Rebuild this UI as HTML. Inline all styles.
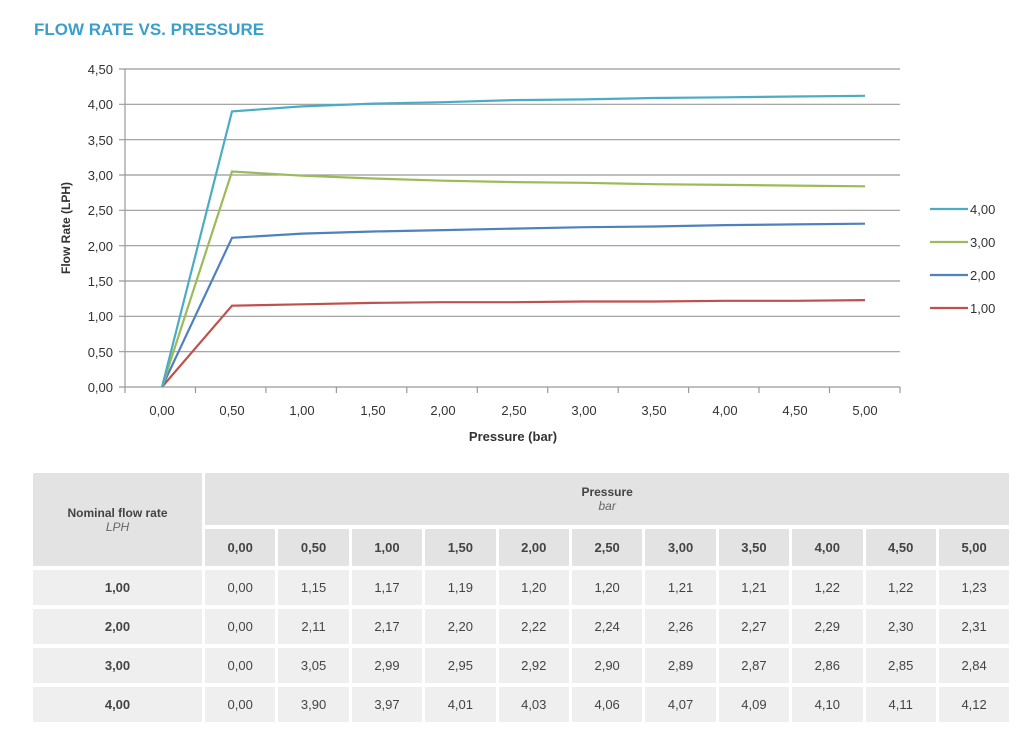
<!DOCTYPE html>
<html><head><meta charset="utf-8"><style>
body{margin:0;background:#fff;width:1024px;height:744px;overflow:hidden;font-family:"Liberation Sans",sans-serif;position:relative}
.t{position:absolute;left:34px;top:20px;color:#3a9fcb;font-weight:bold;font-size:17px}
table{position:absolute;left:33px;top:473px;border-collapse:separate;border-spacing:3px 4px;margin:-4px -3px;font-size:13px;color:#444}
td{background:#efefef;text-align:center;height:35px;padding:0}
.h{background:#e3e3e3;font-weight:bold}
</style></head><body>
<div class="t">FLOW RATE VS. PRESSURE</div>
<svg width="1024" height="470" style="position:absolute;left:0;top:0" font-family="Liberation Sans, sans-serif" font-size="13" fill="#333">
<g stroke="#999" stroke-width="1.2">
<line x1="125" y1="69" x2="900" y2="69"/><line x1="125" y1="104.3" x2="900" y2="104.3"/><line x1="125" y1="139.7" x2="900" y2="139.7"/><line x1="125" y1="175" x2="900" y2="175"/><line x1="125" y1="210.3" x2="900" y2="210.3"/><line x1="125" y1="245.7" x2="900" y2="245.7"/><line x1="125" y1="281" x2="900" y2="281"/><line x1="125" y1="316.3" x2="900" y2="316.3"/><line x1="125" y1="351.7" x2="900" y2="351.7"/><line x1="125" y1="387" x2="900" y2="387"/>
<line x1="125" y1="69" x2="125" y2="387"/>
<path d="M119 69h6M119 104.3h6M119 139.7h6M119 175h6M119 210.3h6M119 245.7h6M119 281h6M119 316.3h6M119 351.7h6M119 387h6"/>
<path d="M125 387v6M195.5 387v6M265.9 387v6M336.4 387v6M406.8 387v6M477.3 387v6M547.7 387v6M618.2 387v6M688.6 387v6M759 387v6M829.5 387v6M900 387v6"/>
</g>
<g text-anchor="end"><text x="113" y="74">4,50</text><text x="113" y="109">4,00</text><text x="113" y="145">3,50</text><text x="113" y="180">3,00</text><text x="113" y="215">2,50</text><text x="113" y="251">2,00</text><text x="113" y="286">1,50</text><text x="113" y="321">1,00</text><text x="113" y="357">0,50</text><text x="113" y="392">0,00</text></g>
<g text-anchor="middle"><text x="162" y="415">0,00</text><text x="232" y="415">0,50</text><text x="302" y="415">1,00</text><text x="373" y="415">1,50</text><text x="443" y="415">2,00</text><text x="514" y="415">2,50</text><text x="584" y="415">3,00</text><text x="654" y="415">3,50</text><text x="725" y="415">4,00</text><text x="795" y="415">4,50</text><text x="865" y="415">5,00</text>
<text x="513" y="441" font-weight="bold">Pressure (bar)</text>
<text transform="translate(70 228) rotate(-90)" font-weight="bold" font-size="12">Flow Rate (LPH)</text></g>
<g fill="none" stroke-width="2.2">
<polyline stroke="#c0504d" points="162,387 232,305.7 302,304.3 373,302.9 443,302.2 514,302.2 584,301.5 654,301.5 725,300.8 795,300.8 865,300.1"/>
<polyline stroke="#4f81bd" points="162,387 232,237.8 302,233.6 373,231.5 443,230.1 514,228.6 584,227.2 654,226.5 725,225.1 795,224.4 865,223.7"/>
<polyline stroke="#9bbb59" points="162,387 232,171.5 302,175.7 373,178.5 443,180.7 514,182.1 584,182.8 654,184.2 725,184.9 795,185.6 865,186.3"/>
<polyline stroke="#4bacc6" points="162,387 232,111.4 302,106.4 373,103.6 443,102.2 514,100.1 584,99.4 654,98 725,97.3 795,96.5 865,95.8"/>
<line x1="930" y1="209" x2="968" y2="209" stroke="#4bacc6"/><line x1="930" y1="242" x2="968" y2="242" stroke="#9bbb59"/><line x1="930" y1="275" x2="968" y2="275" stroke="#4f81bd"/><line x1="930" y1="308" x2="968" y2="308" stroke="#c0504d"/>
</g>
<text x="970" y="214">4,00</text><text x="970" y="247">3,00</text><text x="970" y="280">2,00</text><text x="970" y="313">1,00</text>
</svg>
<table>
<tr><td class="h" rowspan="2" style="width:169px;height:93px;font-size:12px">Nominal flow rate<br><i style="font-weight:normal;color:#666">LPH</i></td><td class="h" colspan="11" style="height:50px;font-size:12px">Pressure<br><i style="font-weight:normal;color:#666">bar</i></td></tr>
<tr><td class="h" style="width:70.4px">0,00</td><td class="h" style="width:70.4px">0,50</td><td class="h" style="width:70.4px">1,00</td><td class="h" style="width:70.4px">1,50</td><td class="h" style="width:70.4px">2,00</td><td class="h" style="width:70.4px">2,50</td><td class="h" style="width:70.4px">3,00</td><td class="h" style="width:70.4px">3,50</td><td class="h" style="width:70.4px">4,00</td><td class="h" style="width:70.4px">4,50</td><td class="h" style="width:70.4px">5,00</td></tr>
<tr><td><b>1,00</b></td><td>0,00</td><td>1,15</td><td>1,17</td><td>1,19</td><td>1,20</td><td>1,20</td><td>1,21</td><td>1,21</td><td>1,22</td><td>1,22</td><td>1,23</td></tr>
<tr><td><b>2,00</b></td><td>0,00</td><td>2,11</td><td>2,17</td><td>2,20</td><td>2,22</td><td>2,24</td><td>2,26</td><td>2,27</td><td>2,29</td><td>2,30</td><td>2,31</td></tr>
<tr><td><b>3,00</b></td><td>0,00</td><td>3,05</td><td>2,99</td><td>2,95</td><td>2,92</td><td>2,90</td><td>2,89</td><td>2,87</td><td>2,86</td><td>2,85</td><td>2,84</td></tr>
<tr><td><b>4,00</b></td><td>0,00</td><td>3,90</td><td>3,97</td><td>4,01</td><td>4,03</td><td>4,06</td><td>4,07</td><td>4,09</td><td>4,10</td><td>4,11</td><td>4,12</td></tr>
</table>
</body></html>
